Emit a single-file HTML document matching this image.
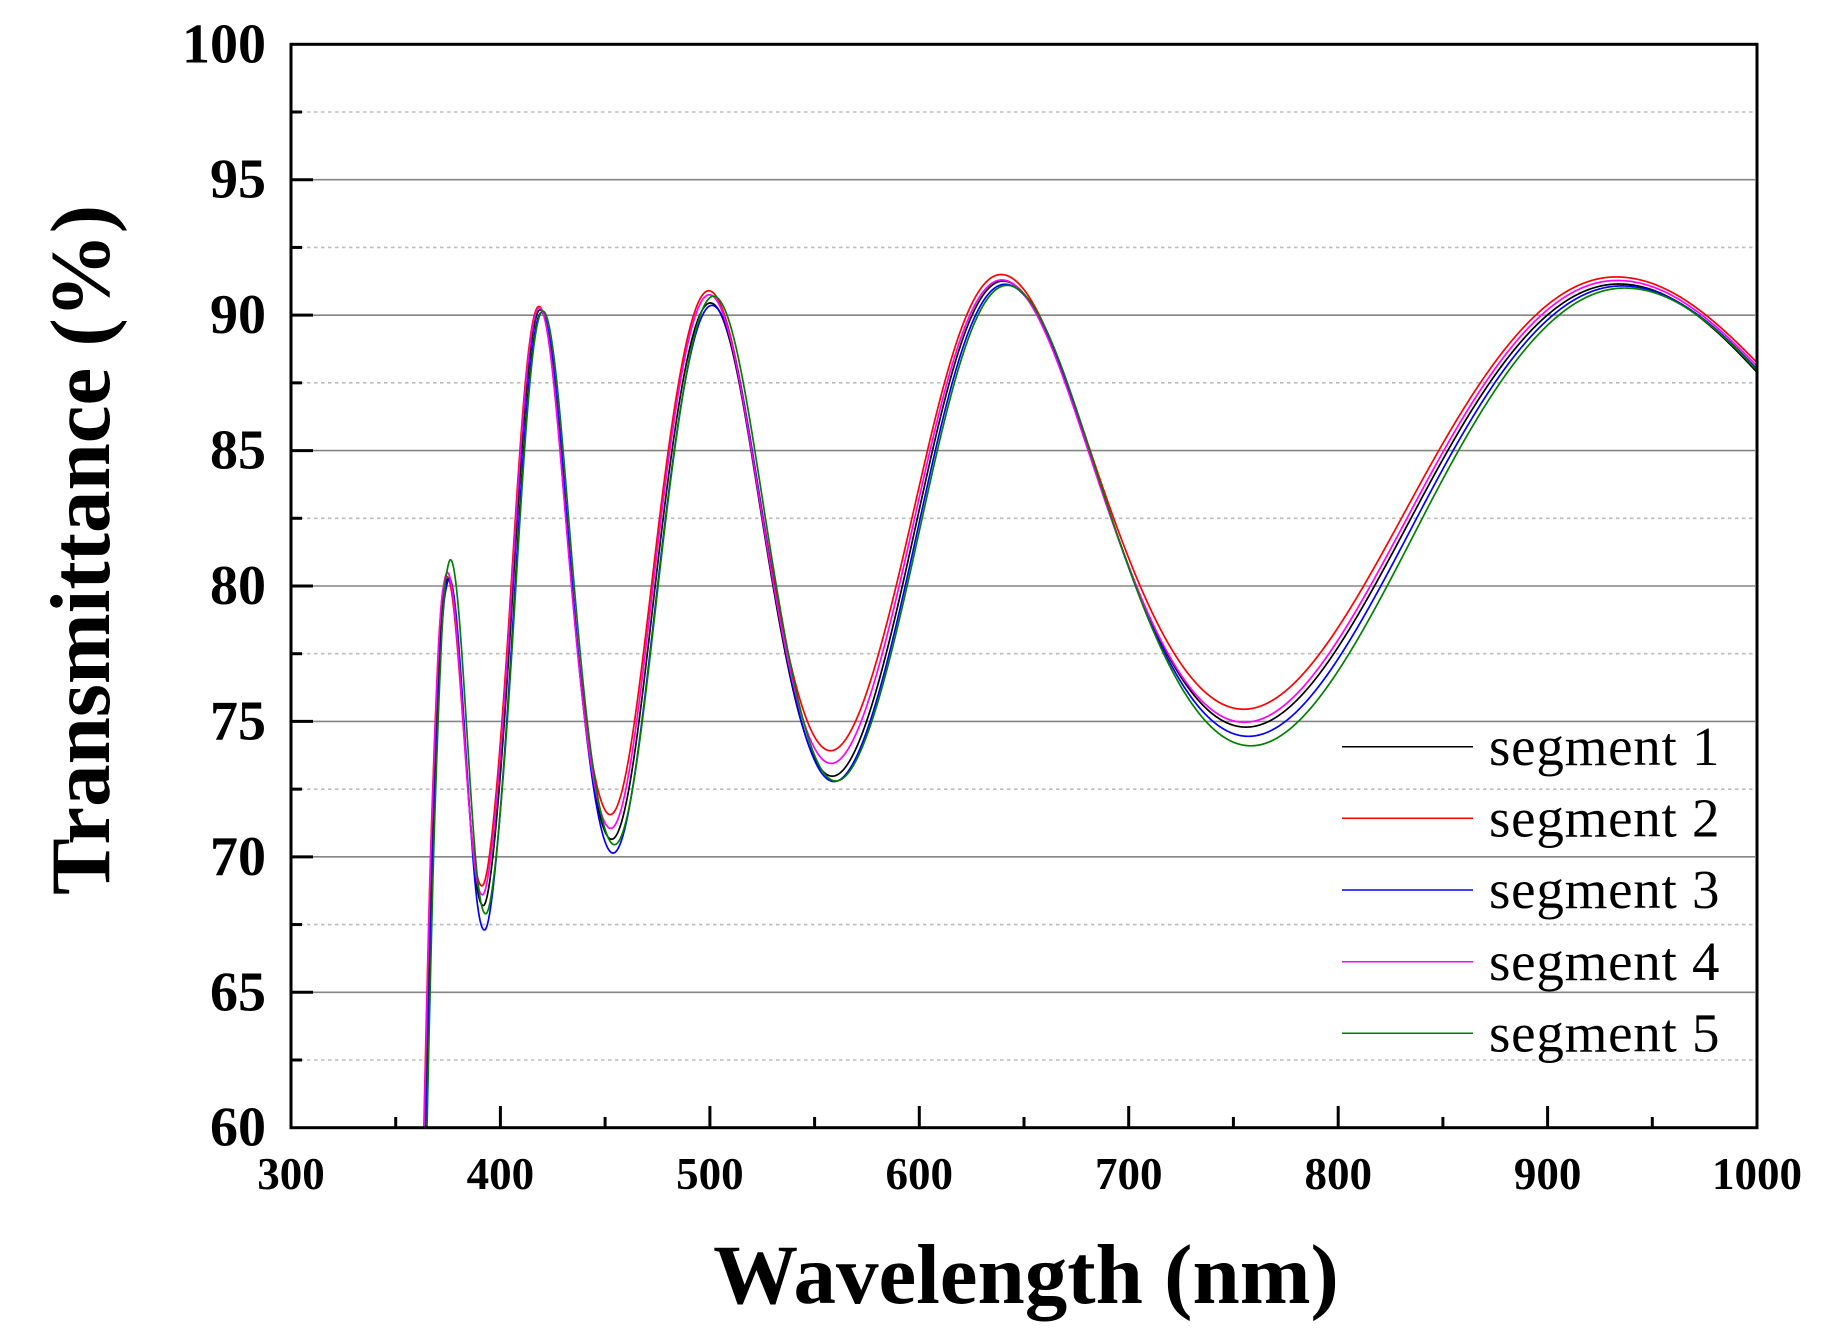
<!DOCTYPE html>
<html>
<head>
<meta charset="utf-8">
<style>
  html,body{margin:0;padding:0;background:#fff;}
  body{width:1833px;height:1335px;overflow:hidden;position:relative;}
  svg{position:absolute;left:0;top:0;}
  text{font-family:"Liberation Serif","Times New Roman",serif;fill:#000;}
  .yl{font-size:56px;font-weight:bold;text-anchor:end;}
  .xl{font-size:45px;font-weight:bold;text-anchor:middle;}
  .tt{font-size:85px;font-weight:bold;text-anchor:middle;}
  .lg{font-size:55px;letter-spacing:0.75px;}
</style>
</head>
<body>
<svg id="chart" width="1833" height="1335" viewBox="0 0 1833 1335" xmlns="http://www.w3.org/2000/svg">
  <defs>
    <clipPath id="plotclip"><rect x="291" y="44.3" width="1466" height="1083.4"/></clipPath>
  </defs>
  <rect x="0" y="0" width="1833" height="1335" fill="#fff"/>

  <!-- minor dotted gridlines -->
  <g stroke="#bdbdbd" stroke-width="1.6" stroke-dasharray="3.5,3.5">
    <line x1="293" x2="1755" y1="112.01" y2="112.01"/>
    <line x1="293" x2="1755" y1="247.44" y2="247.44"/>
    <line x1="293" x2="1755" y1="382.86" y2="382.86"/>
    <line x1="293" x2="1755" y1="518.29" y2="518.29"/>
    <line x1="293" x2="1755" y1="653.71" y2="653.71"/>
    <line x1="293" x2="1755" y1="789.14" y2="789.14"/>
    <line x1="293" x2="1755" y1="924.56" y2="924.56"/>
    <line x1="293" x2="1755" y1="1059.99" y2="1059.99"/>
  </g>
  <!-- major solid gridlines -->
  <g stroke="#858585" stroke-width="1.6">
    <line x1="293" x2="1755" y1="179.73" y2="179.73"/>
    <line x1="293" x2="1755" y1="315.15" y2="315.15"/>
    <line x1="293" x2="1755" y1="450.58" y2="450.58"/>
    <line x1="293" x2="1755" y1="586.0" y2="586.0"/>
    <line x1="293" x2="1755" y1="721.43" y2="721.43"/>
    <line x1="293" x2="1755" y1="856.85" y2="856.85"/>
    <line x1="293" x2="1755" y1="992.28" y2="992.28"/>
  </g>

  <!-- curves -->
  <g id="curves" clip-path="url(#plotclip)" fill="none" stroke-width="1.7" stroke-linejoin="round"></g>

  <!-- axes box -->
  <rect x="291" y="44.3" width="1466" height="1083.4" fill="none" stroke="#000" stroke-width="3"/>

  <!-- y ticks -->
  <g stroke="#000" stroke-width="3">
    <line x1="291" x2="313" y1="179.73" y2="179.73"/>
    <line x1="291" x2="313" y1="315.15" y2="315.15"/>
    <line x1="291" x2="313" y1="450.58" y2="450.58"/>
    <line x1="291" x2="313" y1="586.0" y2="586.0"/>
    <line x1="291" x2="313" y1="721.43" y2="721.43"/>
    <line x1="291" x2="313" y1="856.85" y2="856.85"/>
    <line x1="291" x2="313" y1="992.28" y2="992.28"/>
    <line x1="291" x2="302" y1="112.01" y2="112.01"/>
    <line x1="291" x2="302" y1="247.44" y2="247.44"/>
    <line x1="291" x2="302" y1="382.86" y2="382.86"/>
    <line x1="291" x2="302" y1="518.29" y2="518.29"/>
    <line x1="291" x2="302" y1="653.71" y2="653.71"/>
    <line x1="291" x2="302" y1="789.14" y2="789.14"/>
    <line x1="291" x2="302" y1="924.56" y2="924.56"/>
    <line x1="291" x2="302" y1="1059.99" y2="1059.99"/>
  </g>
  <!-- x ticks -->
  <g stroke="#000" stroke-width="3">
    <line x1="500.4" x2="500.4" y1="1127.7" y2="1106"/>
    <line x1="709.9" x2="709.9" y1="1127.7" y2="1106"/>
    <line x1="919.3" x2="919.3" y1="1127.7" y2="1106"/>
    <line x1="1128.7" x2="1128.7" y1="1127.7" y2="1106"/>
    <line x1="1338.2" x2="1338.2" y1="1127.7" y2="1106"/>
    <line x1="1547.6" x2="1547.6" y1="1127.7" y2="1106"/>
    <line x1="395.7" x2="395.7" y1="1127.7" y2="1117"/>
    <line x1="605.1" x2="605.1" y1="1127.7" y2="1117"/>
    <line x1="814.6" x2="814.6" y1="1127.7" y2="1117"/>
    <line x1="1024.0" x2="1024.0" y1="1127.7" y2="1117"/>
    <line x1="1233.4" x2="1233.4" y1="1127.7" y2="1117"/>
    <line x1="1442.9" x2="1442.9" y1="1127.7" y2="1117"/>
    <line x1="1652.3" x2="1652.3" y1="1127.7" y2="1117"/>
  </g>

  <!-- y tick labels -->
  <text class="yl" x="266" y="62.3">100</text>
  <text class="yl" x="266" y="197.7">95</text>
  <text class="yl" x="266" y="333.2">90</text>
  <text class="yl" x="266" y="468.6">85</text>
  <text class="yl" x="266" y="604.0">80</text>
  <text class="yl" x="266" y="739.4">75</text>
  <text class="yl" x="266" y="874.9">70</text>
  <text class="yl" x="266" y="1010.3">65</text>
  <text class="yl" x="266" y="1145.7">60</text>

  <!-- x tick labels -->
  <text class="xl" x="291" y="1189">300</text>
  <text class="xl" x="500.4" y="1189">400</text>
  <text class="xl" x="709.9" y="1189">500</text>
  <text class="xl" x="919.3" y="1189">600</text>
  <text class="xl" x="1128.7" y="1189">700</text>
  <text class="xl" x="1338.2" y="1189">800</text>
  <text class="xl" x="1547.6" y="1189">900</text>
  <text class="xl" x="1757" y="1189">1000</text>

  <!-- axis titles -->
  <text class="tt" x="1026" y="1303">Wavelength (nm)</text>
  <text class="tt" transform="translate(109,550) rotate(-90)" x="0" y="0">Transmittance (%)</text>

  <!-- legend -->
  <g stroke-width="1.5">
    <line x1="1342" x2="1473" y1="746.7" y2="746.7" stroke="#000000"/>
    <line x1="1342" x2="1473" y1="818.3" y2="818.3" stroke="#ff0000"/>
    <line x1="1342" x2="1473" y1="890" y2="890" stroke="#0000ff"/>
    <line x1="1342" x2="1473" y1="961.7" y2="961.7" stroke="#ff00ff"/>
    <line x1="1342" x2="1473" y1="1033.3" y2="1033.3" stroke="#008000"/>
  </g>
  <text class="lg" x="1489" y="765">segment 1</text>
  <text class="lg" x="1489" y="836.5">segment 2</text>
  <text class="lg" x="1489" y="908">segment 3</text>
  <text class="lg" x="1489" y="980">segment 4</text>
  <text class="lg" x="1489" y="1051.5">segment 5</text>
</svg>

<script>
(function(){
  function pchip(xs, ys, m0, mN){
    var n = xs.length, h = [], d = [], m = new Array(n), i;
    for(i=0;i<n-1;i++){ h[i]=xs[i+1]-xs[i]; d[i]=(ys[i+1]-ys[i])/h[i]; }
    m[0]=d[0]; m[n-1]=d[n-2];
    for(i=1;i<n-1;i++){
      if(d[i-1]*d[i]<=0){ m[i]=0; }
      else{
        var w1=2*h[i]+h[i-1], w2=h[i]+2*h[i-1];
        m[i]=(w1+w2)/(w1/d[i-1]+w2/d[i]);
      }
    }
    if(m0!=null) m[0]=m0;
    if(mN!=null) m[n-1]=mN;
    return function(x){
      if(x<=xs[0]) return ys[0]+(x-xs[0])*m[0];
      if(x>=xs[n-1]) return ys[n-1]+(x-xs[n-1])*m[n-1];
      var k=0; while(k<n-2 && x>xs[k+1]) k++;
      var hh=h[k], t=(x-xs[k])/hh, t2=t*t, t3=t2*t;
      return (2*t3-3*t2+1)*ys[k] + (t3-2*t2+t)*hh*m[k] + (-2*t3+3*t2)*ys[k+1] + (t3-t2)*hh*m[k+1];
    };
  }
  var X=function(l){return 291+(l-300)*2.0943;};
  var Y=function(t){return 44.3+(100-t)*27.085;};

  var kL=[375,383,391.8,405.4,419,433.6,453.1,474.7,500.2,526.5,558.5,598,640,689.4,756,838,934,1000];
  var kP=[6,5.75,5.5,5.25,5,4.75,4.5,4.25,4,3.75,3.5,3.25,3,2.75,2.5,2.25,2,1.84];
  var us=kL.map(function(l){return 1000/l;}).reverse();
  var ps=kP.slice().reverse();
  var phi=pchip(us,ps);
  var edge=pchip([362,364,365.5,367,368.5,370,371.5,373,375],[52.5,60,65,69.5,73,76,78.4,79.7,80.27],null,0);

  var segs=[
    {c:"#000000", s:1.0,    v:[80.27,68.2,90.2,70.65,90.45,72.98,91.26,74.79,91.15,77.1]},
    {c:"#ff0000", s:0.9985, v:[80.35,68.93,90.32,71.56,90.9,73.92,91.5,75.45,91.41,78.3]},
    {c:"#0000ff", s:1.0015, v:[80.27,67.3,90.1,70.14,90.36,72.78,91.14,74.45,91.08,77.3]},
    {c:"#ff00ff", s:0.999,  v:[80.5,68.6,90.28,71.05,90.75,73.45,91.3,74.97,91.28,78.0]},
    {c:"#008000", s:1.003,  v:[80.97,67.9,90.15,70.45,90.7,72.8,91.1,74.10,91.0,76.8]}
  ];
  function T(le,seg){
    if(le<375) return edge(le)*seg.v[0]/80.27;
    var p=phi(1000/le);
    var k=Math.floor(2*(6-p));
    if(k<0)k=0; if(k>8)k=8;
    var a=seg.v[k], b=seg.v[k+1];
    var hi=Math.max(a,b), lo=Math.min(a,b);
    return lo+(hi-lo)*(1+Math.cos(2*Math.PI*p))/2;
  }
  var g=document.getElementById("curves");
  segs.forEach(function(seg){
    var d="", first=true;
    for(var l=360; l<=1000.001; l+=0.25){
      var le=l/seg.s;
      if(le<362) continue;
      var t=T(le,seg);
      d+=(first?"M":"L")+X(l).toFixed(2)+","+Y(t).toFixed(2);
      first=false;
    }
    var p=document.createElementNS("http://www.w3.org/2000/svg","path");
    p.setAttribute("d",d);
    p.setAttribute("stroke",seg.c);
    g.appendChild(p);
  });
})();
</script>
</body>
</html>
